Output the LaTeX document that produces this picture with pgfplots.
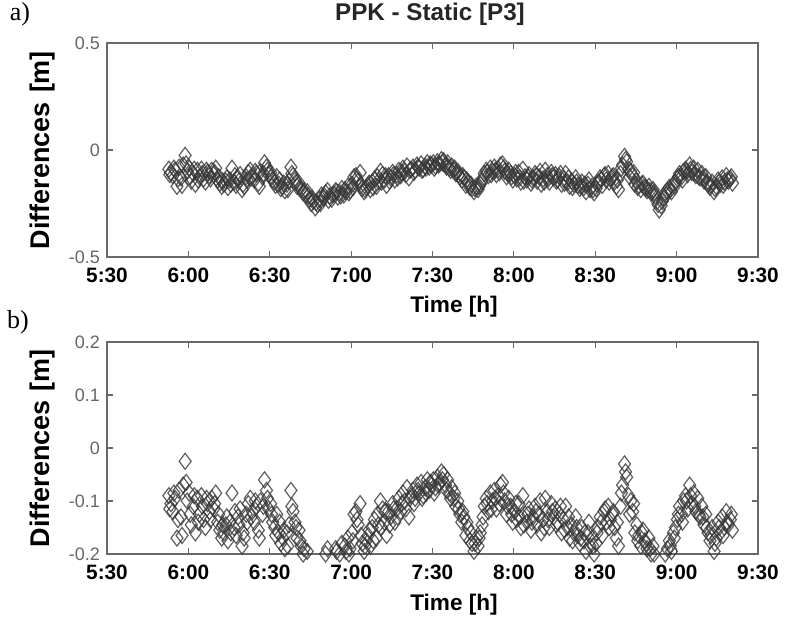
\documentclass[border=0pt]{standalone}
\usepackage{pgfplots}
\pgfplotsset{compat=1.18}
\usepackage{pgfplotstable}
\usepackage{fontspec}
\setmainfont{Liberation Sans}
\newfontfamily\serifx{Liberation Serif}

\pgfplotstableread{
t v
5.880 -0.090
5.893 -0.105
5.905 -0.120
5.918 -0.095
5.930 -0.170
5.943 -0.080
5.955 -0.130
5.968 -0.070
5.980 -0.025
5.993 -0.100
6.005 -0.085
6.018 -0.145
6.030 -0.110
6.043 -0.160
6.055 -0.095
6.068 -0.125
6.080 -0.090
6.093 -0.135
6.105 -0.150
6.118 -0.105
6.130 -0.120
6.143 -0.095
6.155 -0.115
6.168 -0.085
6.180 -0.140
6.193 -0.155
6.205 -0.170
6.218 -0.160
6.230 -0.145
6.243 -0.175
6.255 -0.140
6.268 -0.085
6.280 -0.150
6.293 -0.165
6.305 -0.130
6.318 -0.115
6.330 -0.185
6.343 -0.170
6.355 -0.125
6.368 -0.105
6.380 -0.095
6.393 -0.120
6.405 -0.140
6.418 -0.110
6.430 -0.155
6.443 -0.100
6.455 -0.125
6.468 -0.060
6.480 -0.080
6.493 -0.115
6.505 -0.105
6.518 -0.140
6.530 -0.150
6.543 -0.125
6.555 -0.160
6.568 -0.180
6.580 -0.170
6.593 -0.190
6.605 -0.160
6.618 -0.145
6.630 -0.080
6.643 -0.120
6.655 -0.140
6.668 -0.170
6.680 -0.155
6.693 -0.185
6.705 -0.200
6.718 -0.210
6.730 -0.195
6.743 -0.230
6.755 -0.250
6.768 -0.240
6.780 -0.270
6.793 -0.255
6.805 -0.230
6.818 -0.210
6.830 -0.225
6.843 -0.200
6.855 -0.190
6.868 -0.215
6.880 -0.230
6.893 -0.205
6.905 -0.190
6.918 -0.220
6.930 -0.200
6.943 -0.180
6.955 -0.210
6.968 -0.195
6.980 -0.170
6.993 -0.190
7.005 -0.160
7.018 -0.125
7.030 -0.120
7.043 -0.145
7.055 -0.105
7.068 -0.180
7.080 -0.195
7.093 -0.175
7.105 -0.165
7.118 -0.185
7.130 -0.150
7.143 -0.135
7.155 -0.170
7.168 -0.145
7.180 -0.100
7.193 -0.115
7.205 -0.140
7.218 -0.165
7.230 -0.120
7.243 -0.130
7.255 -0.105
7.268 -0.140
7.280 -0.115
7.293 -0.095
7.305 -0.120
7.318 -0.085
7.330 -0.100
7.343 -0.075
7.355 -0.130
7.368 -0.090
7.380 -0.080
7.393 -0.095
7.405 -0.070
7.418 -0.085
7.430 -0.065
7.443 -0.090
7.455 -0.075
7.468 -0.060
7.480 -0.080
7.493 -0.070
7.505 -0.060
7.518 -0.075
7.530 -0.055
7.543 -0.065
7.555 -0.045
7.568 -0.050
7.580 -0.070
7.593 -0.060
7.605 -0.085
7.618 -0.075
7.630 -0.095
7.643 -0.110
7.655 -0.100
7.668 -0.125
7.680 -0.140
7.693 -0.130
7.705 -0.165
7.718 -0.150
7.730 -0.175
7.743 -0.180
7.755 -0.195
7.768 -0.170
7.780 -0.185
7.793 -0.160
7.805 -0.145
7.818 -0.110
7.830 -0.095
7.843 -0.120
7.855 -0.085
7.868 -0.100
7.880 -0.080
7.893 -0.115
7.905 -0.090
7.918 -0.070
7.930 -0.065
7.943 -0.100
7.955 -0.125
7.968 -0.095
7.980 -0.110
7.993 -0.140
8.005 -0.120
8.018 -0.135
8.030 -0.105
8.043 -0.150
8.055 -0.090
8.068 -0.125
8.080 -0.140
8.093 -0.115
8.105 -0.155
8.118 -0.130
8.130 -0.110
8.143 -0.145
8.155 -0.125
8.168 -0.160
8.180 -0.135
8.193 -0.095
8.205 -0.120
8.218 -0.150
8.230 -0.105
8.243 -0.130
8.255 -0.115
8.268 -0.140
8.280 -0.125
8.293 -0.160
8.305 -0.135
8.318 -0.110
8.330 -0.150
8.343 -0.170
8.355 -0.145
8.368 -0.160
8.380 -0.130
8.393 -0.165
8.405 -0.180
8.418 -0.150
8.430 -0.175
8.443 -0.195
8.455 -0.160
8.468 -0.185
8.480 -0.170
8.493 -0.200
8.505 -0.180
8.518 -0.150
8.530 -0.130
8.543 -0.165
8.555 -0.120
8.568 -0.140
8.580 -0.110
8.593 -0.135
8.605 -0.125
8.618 -0.150
8.630 -0.170
8.643 -0.185
8.655 -0.110
8.668 -0.070
8.680 -0.030
8.693 -0.055
8.705 -0.090
8.718 -0.100
8.730 -0.120
8.743 -0.160
8.755 -0.145
8.768 -0.165
8.780 -0.185
8.793 -0.155
8.805 -0.175
8.818 -0.190
8.830 -0.170
8.843 -0.200
8.855 -0.185
8.868 -0.215
8.880 -0.240
8.893 -0.280
8.905 -0.260
8.918 -0.225
8.930 -0.200
8.943 -0.190
8.955 -0.175
8.968 -0.195
8.980 -0.160
8.993 -0.150
9.005 -0.135
9.018 -0.110
9.030 -0.125
9.043 -0.100
9.055 -0.090
9.068 -0.115
9.080 -0.070
9.093 -0.105
9.105 -0.085
9.118 -0.120
9.130 -0.095
9.143 -0.130
9.155 -0.110
9.168 -0.145
9.180 -0.125
9.193 -0.160
9.205 -0.175
9.218 -0.150
9.230 -0.195
9.243 -0.170
9.255 -0.140
9.268 -0.160
9.280 -0.130
9.293 -0.150
9.305 -0.120
9.318 -0.145
9.330 -0.135
9.343 -0.155
5.886 -0.115
5.911 -0.085
5.936 -0.135
5.961 -0.165
5.986 -0.065
6.011 -0.125
6.036 -0.090
6.061 -0.140
6.086 -0.110
6.111 -0.095
6.136 -0.135
6.161 -0.105
6.186 -0.125
6.211 -0.145
6.236 -0.130
6.261 -0.160
6.286 -0.120
6.311 -0.145
6.336 -0.160
6.361 -0.140
6.386 -0.130
6.411 -0.100
6.436 -0.170
6.461 -0.110
6.486 -0.095
6.511 -0.125
6.536 -0.165
6.561 -0.140
6.586 -0.155
6.611 -0.185
6.636 -0.110
6.661 -0.150
6.686 -0.175
6.711 -0.190
6.736 -0.215
6.761 -0.225
6.786 -0.245
6.811 -0.250
6.836 -0.215
6.861 -0.235
6.886 -0.210
6.911 -0.195
6.936 -0.215
6.961 -0.185
6.986 -0.200
7.011 -0.175
7.036 -0.135
7.061 -0.165
7.086 -0.185
7.111 -0.155
7.136 -0.175
7.161 -0.125
7.186 -0.150
7.211 -0.120
7.236 -0.145
7.261 -0.115
7.286 -0.130
7.311 -0.105
7.336 -0.115
7.361 -0.095
7.386 -0.105
7.411 -0.080
7.436 -0.095
7.461 -0.085
7.486 -0.065
7.511 -0.085
7.536 -0.070
7.561 -0.060
7.586 -0.080
7.611 -0.095
7.636 -0.085
7.661 -0.115
7.686 -0.120
7.711 -0.140
7.736 -0.160
7.761 -0.180
7.786 -0.170
7.811 -0.130
7.836 -0.105
7.861 -0.115
7.886 -0.095
7.911 -0.105
7.936 -0.085
7.961 -0.110
7.986 -0.125
8.011 -0.105
8.036 -0.130
8.061 -0.145
8.086 -0.125
8.111 -0.140
8.136 -0.120
8.161 -0.100
8.186 -0.150
8.211 -0.135
8.236 -0.120
8.261 -0.145
8.286 -0.110
8.311 -0.155
8.336 -0.130
8.361 -0.175
8.386 -0.150
8.411 -0.170
8.436 -0.160
8.461 -0.140
8.486 -0.185
8.511 -0.160
8.536 -0.140
8.561 -0.115
8.586 -0.150
8.611 -0.120
8.636 -0.140
8.661 -0.085
8.686 -0.045
8.711 -0.125
8.736 -0.105
8.761 -0.175
8.786 -0.160
8.811 -0.180
8.836 -0.190
8.861 -0.200
8.886 -0.255
8.911 -0.240
8.936 -0.210
8.961 -0.185
8.986 -0.170
9.011 -0.125
9.036 -0.140
9.061 -0.100
9.086 -0.090
9.111 -0.110
9.136 -0.125
9.161 -0.130
9.186 -0.150
9.211 -0.165
9.236 -0.180
9.261 -0.150
9.286 -0.165
9.311 -0.140
9.336 -0.125
}\datatab

\definecolor{axgray}{RGB}{105,105,105}
\definecolor{mk}{RGB}{55,55,55}

\pgfplotsset{
  panel/.style={
    scale only axis,
    width=325.5pt,
    xmin=5.5, xmax=9.5,
    xtick={5.5,6,6.5,7,7.5,8,8.5,9,9.5},
    xticklabels={5:30,6:00,6:30,7:00,7:30,8:00,8:30,9:00,9:30},
    tick align=inside,
    major tick length=3pt,
    axis line style={axgray, line width=0.7pt},
    every tick/.style={axgray, line width=0.6pt},
    xticklabel style={font=\fontsize{10.4pt}{12pt}\selectfont\bfseries, text=black, anchor=center, yshift=-9pt},
    yticklabel style={font=\fontsize{9pt}{11pt}\selectfont, text=black!60},
    clip=false,
  },
  marks/.style={only marks, mark=diamond, mark size=4pt, mark options={draw=mk, line width=0.6pt, draw opacity=0.8, fill=none}},
}

\begin{document}
\begin{tikzpicture}
\useasboundingbox (0,0) rectangle (392.5pt,311.5pt);

\begin{axis}[panel, at={(53.5pt,183pt)}, anchor=south west, height=107pt,
  ymin=-0.5, ymax=0.5, ytick={-0.5,0,0.5}, yticklabels={-0.5,0,0.5}]
\addplot[marks] table[x=t,y=v] {\datatab};
\end{axis}

\begin{axis}[panel, at={(53.5pt,34.5pt)}, anchor=south west, height=106pt,
  ymin=-0.2, ymax=0.2, ytick={-0.2,-0.1,0,0.1,0.2}, yticklabels={-0.2,-0.1,0,0.1,0.2},
  restrict y to domain=-0.2:0.2]
\addplot[marks] table[x=t,y=v] {\datatab};
\end{axis}

\node[font=\serifx\fontsize{13pt}{15pt}\selectfont] at (10pt,304.5pt) {a)};
\node[font=\serifx\fontsize{13pt}{15pt}\selectfont] at (9pt,150.5pt) {b)};
\node[font=\fontsize{12.1pt}{14pt}\selectfont\bfseries, text=black!85] at (215pt,304.5pt) {PPK - Static [P3]};
\node[font=\fontsize{13.5pt}{16pt}\selectfont\bfseries, rotate=90] at (21.5pt,236.5pt) {Differences\,\,[m]};
\node[font=\fontsize{13.5pt}{16pt}\selectfont\bfseries, rotate=90] at (21.5pt,87.5pt) {Differences\,\,[m]};
\node[font=\fontsize{11.3pt}{14pt}\selectfont\bfseries] at (227pt,158pt) {Time [h]};
\node[font=\fontsize{11.3pt}{14pt}\selectfont\bfseries] at (227pt,9pt) {Time [h]};
\end{tikzpicture}
\end{document}
